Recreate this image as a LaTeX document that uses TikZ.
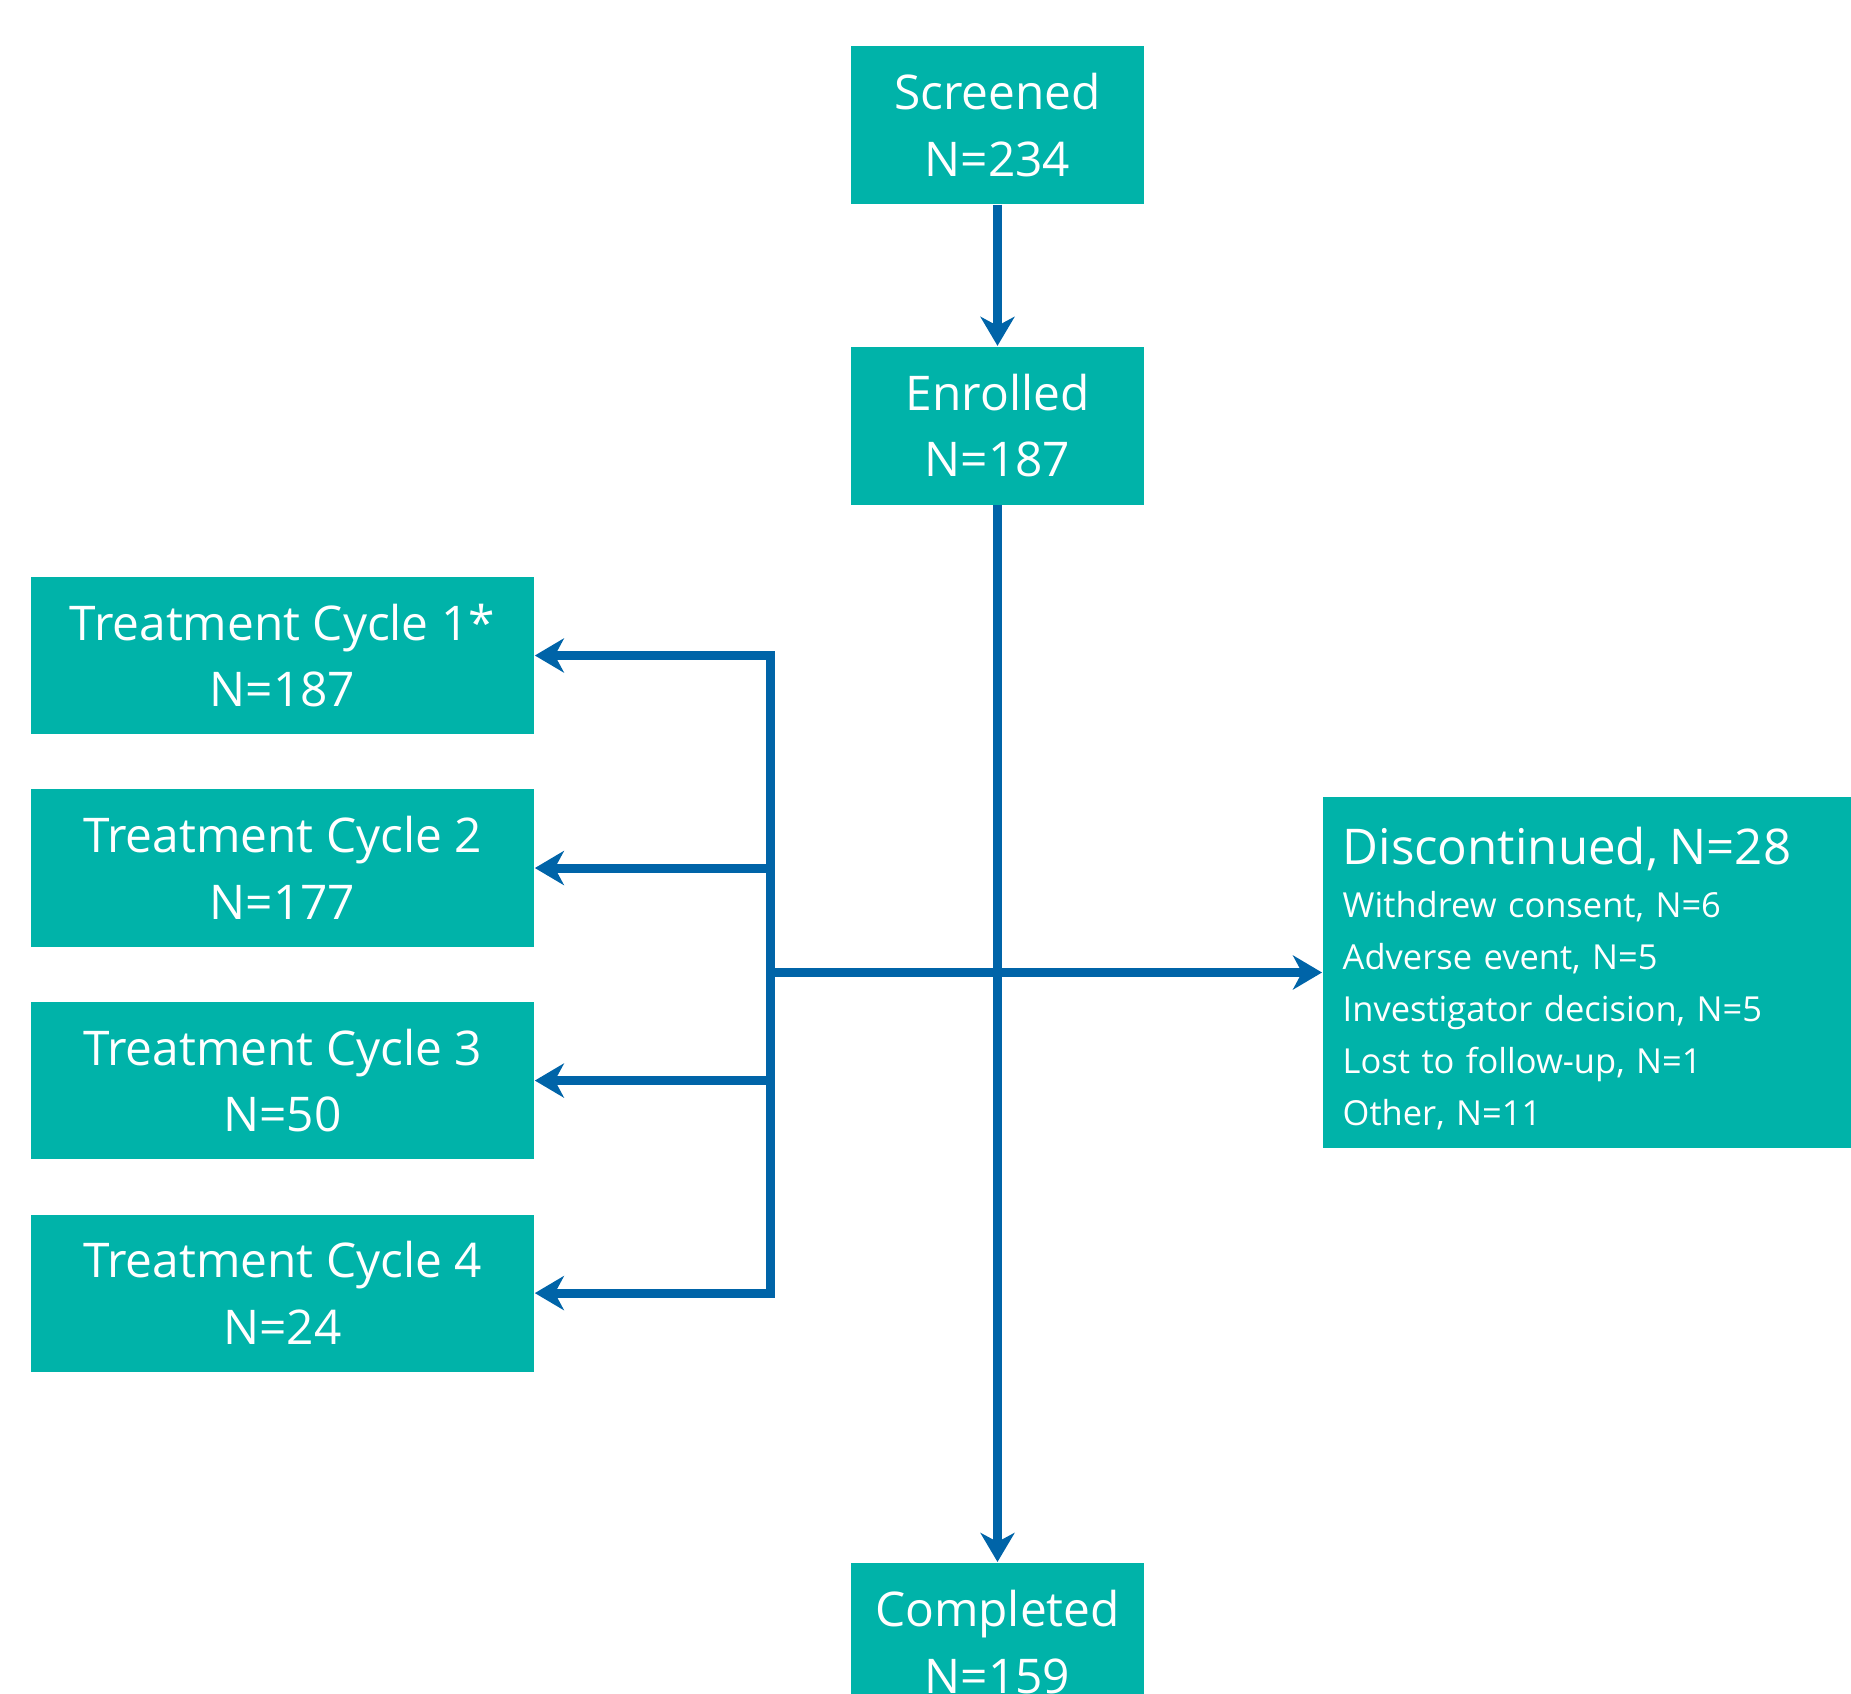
\documentclass[tikz,border=0pt]{standalone}
\usepackage{fontspec}
\setmainfont{Open Sans}
\usetikzlibrary{positioning, arrows.meta}
\definecolor{boxteal}{HTML}{00B3A9}
\definecolor{lineblue}{HTML}{0064A8}
\tikzstyle{stagebox} = [rectangle, minimum width=2.93cm, minimum height=1.58cm, inner sep=0pt, align=center, fill=boxteal, text=white, font=\fontsize{13.6}{19}\selectfont]
\tikzstyle{cyclebox} = [stagebox, minimum width=5.03cm, minimum height=1.57cm]
\tikzstyle{discbox} = [rectangle, minimum width=5.6cm, minimum height=3.5cm, text width=5.2cm, inner xsep=0.2cm, inner ysep=0pt, align=left, fill=boxteal, text=white, font=\fontsize{9.8}{14.8}\selectfont]
\tikzstyle{arrow} = [line width=0.09cm, draw=lineblue, -{Stealth[length=0.29cm, width=0.34cm, inset=0.09cm]}]

\begin{document}
\begin{tikzpicture}[x=0.01cm, y=-0.01cm, node distance=0.54cm] % 1 unit = 1 px of the reference
\path[use as bounding box, clip] (0,0) rectangle (1851,1694);

% Nodes
\node (screened) [stagebox] at (997.5,125) {Screened\\N=234};
\node (enrolled) [stagebox, below=1.41cm of screened] {Enrolled\\N=187};
\node (completed) [stagebox, below=10.56cm of enrolled] {Completed\\N=159};
\node (cycle1) [cyclebox] at (282.5,655.5) {Treatment Cycle 1*\\N=187};
\node (cycle2) [cyclebox, below=of cycle1] {Treatment Cycle 2\\N=177};
\node (cycle3) [cyclebox, below=of cycle2] {Treatment Cycle 3\\N=50};
\node (cycle4) [cyclebox, below=of cycle3] {Treatment Cycle 4\\N=24};
\node (disc) [discbox, anchor=west] at (1322,972.5) {{\fontsize{14}{14.8}\selectfont\rule{0pt}{14pt}Discontinued, N=28}\\[0.4pt]
  Withdrew consent, N=6\\
  Adverse event, N=5\\
  Investigator decision, N=5\\
  Lost to follow-up, N=1\\
  Other, N=11};
\coordinate (split) at ([xshift=2.36cm]cycle1.east |- disc.west);

% Arrows
\draw [arrow] (screened) -- (enrolled);
\draw [arrow] (enrolled) -- (completed);
\draw [arrow] (split) -- (disc.west);
\draw [arrow] (split) |- (cycle1);
\draw [arrow] (split) |- (cycle2);
\draw [arrow] (split) |- (cycle3);
\draw [arrow] (split) |- (cycle4);

\end{tikzpicture}
\end{document}
